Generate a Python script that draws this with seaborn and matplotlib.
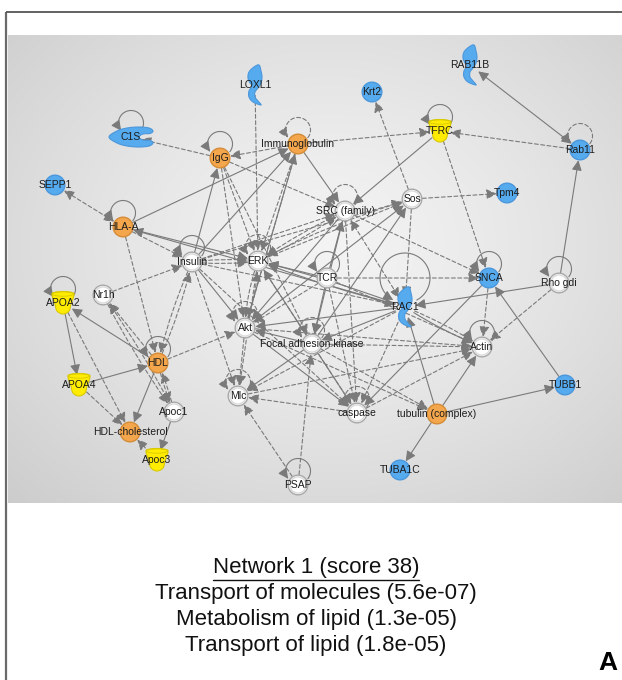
import numpy as np
import matplotlib
matplotlib.use("Agg")
import matplotlib.pyplot as plt
from matplotlib.path import Path
from matplotlib.patches import PathPatch, FancyArrowPatch
import pandas as pd
import seaborn as sns

# ---------------------------------------------------------------- data
node_names = ["LOXL1", "RAB11B", "Krt2", "C1S", "IgG", "Immunoglobulin", "TFRC",
              "Rab11", "SEPP1", "Sos", "Tpm4", "SRC (family)", "HLA-A", "Insulin",
              "ERK", "TCR", "SNCA", "Rho gdi", "RAC1", "APOA2", "Nr1h", "Akt",
              "Focal adhesion kinase", "Actin", "HDL", "APOA4", "Mlc", "Apoc1",
              "caspase", "tubulin (complex)", "TUBB1", "HDL-cholesterol", "Apoc3",
              "TUBA1C", "PSAP"]
node_x = [255, 470, 372, 131, 220, 298, 440, 580, 55, 412, 507, 345, 123, 192,
          258, 327, 489, 559, 405, 63, 103, 245, 312, 482, 158, 79, 238, 174,
          357, 437, 565, 130, 157, 400, 298]
node_y = [85, 65, 92, 137, 158, 144, 131, 150, 185, 199, 193, 211, 227, 262,
          261, 278, 278, 283, 307, 303, 295, 328, 344, 347, 363, 385, 396, 412,
          413, 414, 385, 432, 460, 470, 485]
node_kind = ["blue", "blue", "blue", "blue", "orange", "orange", "yellow",
             "blue", "blue", "white", "blue", "white", "orange", "white",
             "white", "white", "blue", "white", "blue", "yellow", "white", "white",
             "white", "white", "orange", "yellow", "white", "white",
             "white", "orange", "blue", "orange", "yellow", "blue", "white"]
node_shape = ["crescent", "crescent", "circle", "clam", "circle", "circle", "cup",
              "circle", "circle", "circle", "circle", "circle", "circle", "circle",
              "circle", "circle", "circle", "circle", "crescent", "cup", "circle", "circle",
              "circle", "circle", "circle", "cup", "circle", "circle",
              "circle", "circle", "circle", "circle", "cup", "circle", "circle"]

loop_nodes = ["C1S", "IgG", "Immunoglobulin", "TFRC", "Rab11", "HLA-A", "SRC (family)",
              "Insulin", "ERK", "TCR", "SNCA", "Rho gdi", "RAC1", "APOA2", "Akt",
              "Focal adhesion kinase", "Actin", "HDL", "Mlc", "caspase", "PSAP"]
loop_dashed = [False, False, True, False, True, False, True,
               False, True, False, False, False, False, False, True,
               True, False, False, True, True, False]

edges = [
    # (source, target, dashed, both heads, bend)
    ("IgG", "C1S", True, False, 0), ("Immunoglobulin", "IgG", True, False, 0),
    ("Immunoglobulin", "TFRC", True, False, 0), ("Rab11", "TFRC", True, False, 0),
    ("Rab11", "RAB11B", False, True, 0), ("Rho gdi", "Rab11", False, False, 0),
    ("Sos", "Krt2", True, False, 0), ("Sos", "Tpm4", True, False, 0),
    ("TFRC", "SRC (family)", False, False, 0), ("TFRC", "SNCA", True, False, 0),
    ("HLA-A", "SEPP1", True, True, 0), ("HLA-A", "Immunoglobulin", False, False, 0),
    ("HLA-A", "ERK", False, False, 0), ("HLA-A", "Insulin", True, False, 0),
    ("HLA-A", "HDL", True, False, 0), ("RAC1", "HLA-A", False, False, 0),
    ("IgG", "SRC (family)", True, False, 0), ("IgG", "ERK", True, False, 0),
    ("IgG", "Akt", True, False, 0), ("Insulin", "IgG", False, False, 0),
    ("Insulin", "Immunoglobulin", False, False, 0), ("Akt", "Immunoglobulin", False, False, 0),
    ("Immunoglobulin", "ERK", True, False, 0), ("Immunoglobulin", "SRC (family)", False, False, 0),
    ("Immunoglobulin", "Akt", True, False, 0), ("LOXL1", "ERK", True, False, 0),
    ("Insulin", "ERK", True, False, 0.06), ("Insulin", "ERK", True, False, -0.06),
    ("Insulin", "SRC (family)", True, False, 0), ("Insulin", "Sos", True, False, 0),
    ("Insulin", "Akt", False, False, 0), ("Insulin", "Mlc", True, False, 0),
    ("Insulin", "HDL", True, False, 0.05), ("HDL", "Insulin", True, False, 0.05),
    ("Nr1h", "Insulin", True, False, 0), ("HDL", "Nr1h", True, False, 0),
    ("Nr1h", "Apoc1", True, False, 0.04), ("Apoc1", "Nr1h", True, False, 0.04),
    ("HDL", "Akt", True, False, 0), ("HDL", "APOA2", False, False, 0),
    ("APOA4", "HDL", False, False, 0), ("APOA2", "APOA4", False, False, 0),
    ("APOA2", "HDL-cholesterol", True, False, 0), ("APOA4", "HDL-cholesterol", True, False, 0),
    ("HDL", "HDL-cholesterol", False, False, 0), ("Apoc3", "HDL-cholesterol", True, False, 0),
    ("Apoc1", "Apoc3", False, False, 0), ("HDL", "Apoc1", True, False, 0.05),
    ("Apoc1", "HDL", True, False, 0.05), ("ERK", "SRC (family)", True, False, 0.04),
    ("SRC (family)", "ERK", True, False, 0.04), ("ERK", "Sos", True, False, 0),
    ("Sos", "ERK", True, False, 0.05), ("TCR", "ERK", False, False, 0),
    ("RAC1", "ERK", False, False, 0.03), ("RAC1", "ERK", False, False, -0.03),
    ("Focal adhesion kinase", "ERK", False, False, 0), ("Akt", "ERK", True, False, 0.08),
    ("ERK", "Akt", True, False, 0.08), ("ERK", "Mlc", True, False, 0),
    ("TCR", "Akt", True, False, 0), ("RAC1", "Akt", False, False, 0),
    ("Focal adhesion kinase", "Akt", False, False, 0), ("SRC (family)", "Akt", False, False, 0),
    ("Akt", "Sos", False, False, 0), ("Akt", "Mlc", True, False, 0),
    ("Akt", "caspase", False, False, 0), ("Akt", "Actin", True, False, 0),
    ("TCR", "SRC (family)", False, False, 0), ("TCR", "Focal adhesion kinase", False, False, 0),
    ("TCR", "caspase", True, False, 0), ("TCR", "SNCA", True, False, 0),
    ("TCR", "Actin", True, False, 0), ("SRC (family)", "RAC1", True, True, 0),
    ("SRC (family)", "SNCA", True, False, 0), ("SRC (family)", "Focal adhesion kinase", False, False, 0),
    ("Sos", "RAC1", True, False, 0), ("Focal adhesion kinase", "Sos", False, False, 0),
    ("Rho gdi", "RAC1", False, False, 0), ("Rho gdi", "Actin", True, False, 0),
    ("SNCA", "Actin", True, False, 0), ("TUBB1", "SNCA", False, False, 0),
    ("RAC1", "Actin", False, False, 0.05), ("RAC1", "Actin", True, False, -0.05),
    ("tubulin (complex)", "RAC1", False, False, 0), ("tubulin (complex)", "Actin", False, False, 0),
    ("tubulin (complex)", "TUBB1", False, False, 0), ("tubulin (complex)", "TUBA1C", False, False, 0),
    ("SNCA", "caspase", False, False, 0), ("Focal adhesion kinase", "Mlc", False, False, 0),
    ("Focal adhesion kinase", "caspase", False, False, 0), ("Focal adhesion kinase", "Actin", True, False, 0),
    ("Mlc", "Actin", True, False, 0), ("caspase", "Mlc", True, False, 0),
    ("caspase", "Actin", True, False, 0), ("RAC1", "Mlc", True, False, 0),
    ("RAC1", "caspase", True, False, 0), ("RAC1", "Focal adhesion kinase", False, False, 0),
    ("Focal adhesion kinase", "tubulin (complex)", True, False, 0), ("Akt", "tubulin (complex)", True, False, 0),
    ("PSAP", "Mlc", True, False, 0), ("PSAP", "Focal adhesion kinase", True, False, 0),
    ("Insulin", "caspase", True, False, 0), ("ERK", "caspase", True, False, 0),
    ("IgG", "Focal adhesion kinase", True, False, 0), ("SRC (family)", "caspase", True, False, 0),
    ("Insulin", "RAC1", True, False, 0),
]

caption_title = "Network 1 (score 38)"
caption_lines = ["Transport of molecules (5.6e-07)",
                 "Metabolism of lipid (1.3e-05)",
                 "Transport of lipid (1.8e-05)"]
panel_letter = "A"

# ---------------------------------------------------------------- style
sns.set_style("white")
plt.rcParams["font.family"] = ["Liberation Sans", "DejaVu Sans"]

fill = {"orange": "#f3a64b", "blue": "#56aaee", "white": "#ffffff", "yellow": "#ffec00"}
edge_col = {"orange": "#d58c38", "blue": "#4b97dc", "white": "#a8a8a8", "yellow": "#d9c900"}
LINE = "#7a7a7a"

fig = plt.figure(figsize=(6.22, 6.80), dpi=100)
ax = fig.add_axes([0, 0, 1, 1])
ax.set_xlim(0, 622)
ax.set_ylim(680, 0)
ax.axis("off")

# frame lines
ax.plot([5.5, 5.5], [12, 680], color="#6a6a6a", lw=1.6, solid_capstyle="butt")
ax.plot([5.5, 622], [12, 12], color="#555555", lw=1.3, solid_capstyle="butt")

# grey radial-gradient canvas
gx, gy = np.meshgrid(np.linspace(8, 622, 300), np.linspace(35, 503, 240))
d = np.hypot((gx - 330) / 330.0, (gy - 245) / 260.0)
shade = 0.955 - 0.10 * d ** 1.3
ax.imshow(np.dstack([shade] * 3), extent=(8, 622, 503, 35), origin="upper",
          aspect="auto", interpolation="bilinear", zorder=0)
ax.set_xlim(0, 622)
ax.set_ylim(680, 0)

pos = {n: (x, y) for n, x, y in zip(node_names, node_x, node_y)}

# ---------------------------------------------------------------- edges
HEAD = ",head_length=0.6,head_width=0.3"
for src, dst, dashed, both, bend in edges:
    style = "<|-|>" if both else "-|>"
    arr = FancyArrowPatch(pos[src], pos[dst],
                          arrowstyle=style + HEAD,
                          mutation_scale=10, color=LINE, lw=0.8,
                          linestyle=(0, (3.5, 2.2)) if dashed else "-",
                          shrinkA=7.5, shrinkB=7.5,
                          connectionstyle=f"arc3,rad={bend}", zorder=2)
    ax.add_patch(arr)

# self loops
for name, dashed in zip(loop_nodes, loop_dashed):
    x, y = pos[name]
    if name == "RAC1":
        r, cy, t0, t1 = 25.0, y - 29, -62, 242
    else:
        r, cy, t0, t1 = 12.5, y - 14, -38, 218
    t = np.radians(np.linspace(t0, t1, 60))
    pts = np.column_stack([x + r * np.cos(t), cy - r * np.sin(t)])
    loop = FancyArrowPatch(path=Path(pts), arrowstyle="-|>" + HEAD,
                           mutation_scale=10, color=LINE, lw=0.8,
                           linestyle=(0, (3.5, 2.2)) if dashed else "-", zorder=2)
    ax.add_patch(loop)


# ---------------------------------------------------------------- nodes
def smooth_closed(p, n=10):
    p = np.asarray(p, float)
    out = []
    m = len(p)
    for i in range(m):
        p0, p1, p2, p3 = p[i - 1], p[i], p[(i + 1) % m], p[(i + 2) % m]
        for s in np.linspace(0, 1, n, endpoint=False):
            s2, s3 = s * s, s * s * s
            out.append(0.5 * ((2 * p1) + (-p0 + p2) * s +
                              (2 * p0 - 5 * p1 + 4 * p2 - p3) * s2 +
                              (-p0 + 3 * p1 - 3 * p2 + p3) * s3))
    out.append(out[0])
    return np.array(out)


shape_outline = {
    "crescent": [(4, -20), (-1, -18), (-6, -13), (-7, -7), (-5, -2), (-3, 1),
                 (-6, 6), (-6, 12), (-2, 17), (6, 20), (3, 16), (0, 12), (0, 7),
                 (3, 3), (6, -2), (7, -8), (6, -14)],
    "clam": [(-22, 0), (-14, -6), (-4, -9), (8, -10), (18, -9), (22, -6),
             (19, -3.5), (12, -3), (8, 0), (12, 3), (19, 3.5), (22, 6),
             (18, 9), (8, 10), (-4, 9), (-14, 6)],
    "cup": [(-11, -8), (-9, -10.5), (0, -11.5), (9, -10.5), (11, -8),
            (8, 1), (6, 8), (0, 11), (-6, 8), (-8, 1)],
}

for name, kind, shp in zip(node_names, node_kind, node_shape):
    if shp == "circle":
        continue
    x, y = pos[name]
    outline = smooth_closed(shape_outline[shp]) + np.array([x, y])
    ax.add_patch(PathPatch(Path(outline), facecolor=fill[kind],
                           edgecolor=edge_col[kind], lw=0.8, zorder=5))
    if shp == "cup":
        t = np.linspace(0, 2 * np.pi, 40)
        ax.plot(x + 10.5 * np.cos(t), y - 9 + 2.2 * np.sin(t),
                color=edge_col[kind], lw=0.6, zorder=5)

nodes = pd.DataFrame({"name": node_names, "x": node_x, "y": node_y,
                      "kind": node_kind, "shape": node_shape})
circles = nodes[nodes["shape"] == "circle"]
sns.scatterplot(data=circles, x="x", y="y", hue="kind", palette=fill,
                s=200, linewidth=1.0, legend=False, ax=ax, zorder=5)
ax.collections[-1].set_edgecolors([edge_col[k] for k in circles["kind"]])
whites = circles[circles["kind"] == "white"]
ax.scatter(whites["x"], whites["y"], s=135, facecolors="none",
           edgecolors="#dadada", linewidths=1.0, zorder=6)

for name in node_names:
    x, y = pos[name]
    ax.text(x, y, name, ha="center", va="center", fontsize=7.5,
            color="#1c1c1c", zorder=8)

ax.set_xlim(0, 622)
ax.set_ylim(680, 0)
ax.set_xlabel("")
ax.set_ylabel("")

# ---------------------------------------------------------------- caption
title = ax.text(316, 567, caption_title, ha="center", va="center",
                fontsize=16, color="#111111")
for i, line in enumerate(caption_lines):
    ax.text(316, 594 + 26 * i, line, ha="center", va="center",
            fontsize=16, color="#111111")
ax.text(608, 663, panel_letter, ha="center", va="center", fontsize=19,
        fontweight="bold", color="#000000")

# underline the caption title
fig.canvas.draw()
bb = title.get_window_extent().transformed(ax.transData.inverted())
x0, x1 = sorted([bb.x0, bb.x1])
ax.plot([x0, x1], [579.5, 579.5], color="#111111", lw=1.0)

fig.savefig("out.png", dpi=100)
